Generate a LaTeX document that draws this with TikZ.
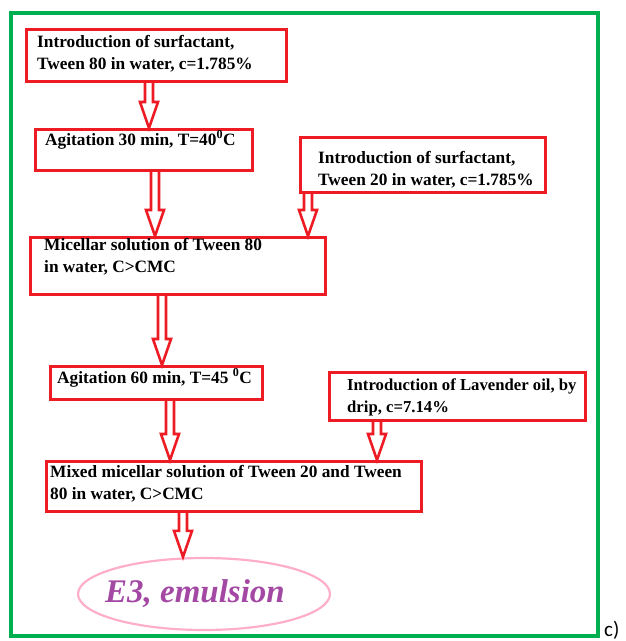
\documentclass[tikz,border=0pt]{standalone}
\usepackage{fontspec}
\setmainfont{Liberation Serif}
\newfontfamily\tagfont{Carlito}
\usetikzlibrary{calc,shapes.geometric}

\definecolor{boxred}{HTML}{ED1C24}
\definecolor{framegreen}{HTML}{00B050}
\definecolor{softpink}{HTML}{FFAEC9}
\definecolor{plum}{HTML}{A349A4}

% hollow block arrow: x position, from node, to node
\newcommand{\hollowarrow}[3]{%
  \draw[flow] let \p1=(#1,0 |- #2.south), \p2=(#1,0 |- #3.north) in
    (\x1-4pt,\y1) -- (\x1-4pt,\y2+26pt) -- (\x1-9pt,\y2+26pt) -- (\x1,\y2)
    -- (\x1+9pt,\y2+26pt) -- (\x1+4pt,\y2+26pt) -- (\x1+4pt,\y1);}

\begin{document}
\begin{tikzpicture}[
  x=1pt, y=-1pt,
  stepbox/.style={
    rectangle,
    draw=boxred,
    line width=2.8pt,
    anchor=north west,
    inner sep=0pt
  },
  txt/.style={
    anchor=north west,
    inner sep=0pt,
    align=left,
    font=\bfseries\fontsize{17.3}{22}\selectfont
  },
  flow/.style={draw=boxred, line width=2.6pt, line join=miter}
]
\useasboundingbox (0,0) rectangle (625,641);

% outer frame
\draw[framegreen, line width=3.5pt] (11,13) rectangle (598,636);

% left column
\node[stepbox, minimum width=260, minimum height=52] (tween80) at (25,28) {};
\node[txt] (tween80txt) at (37,35) {Introduction of surfactant,\\Tween 80 in water, c=1.785\%};

\node[stepbox, minimum width=217, minimum height=41] (agit30) at (34,128) {};
\node[txt] (agit30txt) at (45,133) {Agitation 30 min, T=40\smash{\textsuperscript{0}}C};

\node[stepbox, minimum width=295, minimum height=57] (mic80) at (29,236) {};
\node[txt] (mic80txt) at (44,238.5) {Micellar solution of Tween 80\\in water, C>CMC};

\node[stepbox, minimum width=212, minimum height=33] (agit60) at (49,365) {};
\node[txt] (agit60txt) at (57,371) {Agitation 60 min, T=45 \smash{\textsuperscript{0}}C};

\node[stepbox, minimum width=375, minimum height=50] (mixed) at (45,460) {};
\node[txt] (mixedtxt) at (50,465.5) {Mixed micellar solution of Tween 20 and Tween\\80 in water, C>CMC};

% right column
\node[stepbox, minimum width=245, minimum height=55] (tween20) at (299,136) {};
\node[txt] (tween20txt) at (318,151) {Introduction of surfactant,\\Tween 20 in water, c=1.785\%};

\node[stepbox, minimum width=256, minimum height=48] (lavender) at (328,371) {};
\node[txt, font=\bfseries\fontsize{16.7}{22}\selectfont] (lavendertxt) at (347,378.5) {Introduction of Lavender oil, by\\drip, c=7.14\%};

% result
\node[ellipse, draw=softpink, line width=2.2pt, minimum width=252, minimum height=72,
  inner sep=0pt, text=plum, font=\bfseries\itshape\fontsize{33}{33}\selectfont]
  (emulsion) at (204,594) {\makebox[0pt]{\hspace*{-18pt}E3, emulsion}};

\node[anchor=base west, inner sep=0pt, font=\tagfont\fontsize{21}{21}\selectfont] (tag) at (604,636) {c)};

% arrows
\hollowarrow{149}{tween80}{agit30}
\hollowarrow{155}{agit30}{mic80}
\hollowarrow{308}{tween20}{mic80}
\hollowarrow{162}{mic80}{agit60}
\hollowarrow{170}{agit60}{mixed}
\hollowarrow{377}{lavender}{mixed}
\hollowarrow{183}{mixed}{emulsion}

\end{tikzpicture}
\end{document}
